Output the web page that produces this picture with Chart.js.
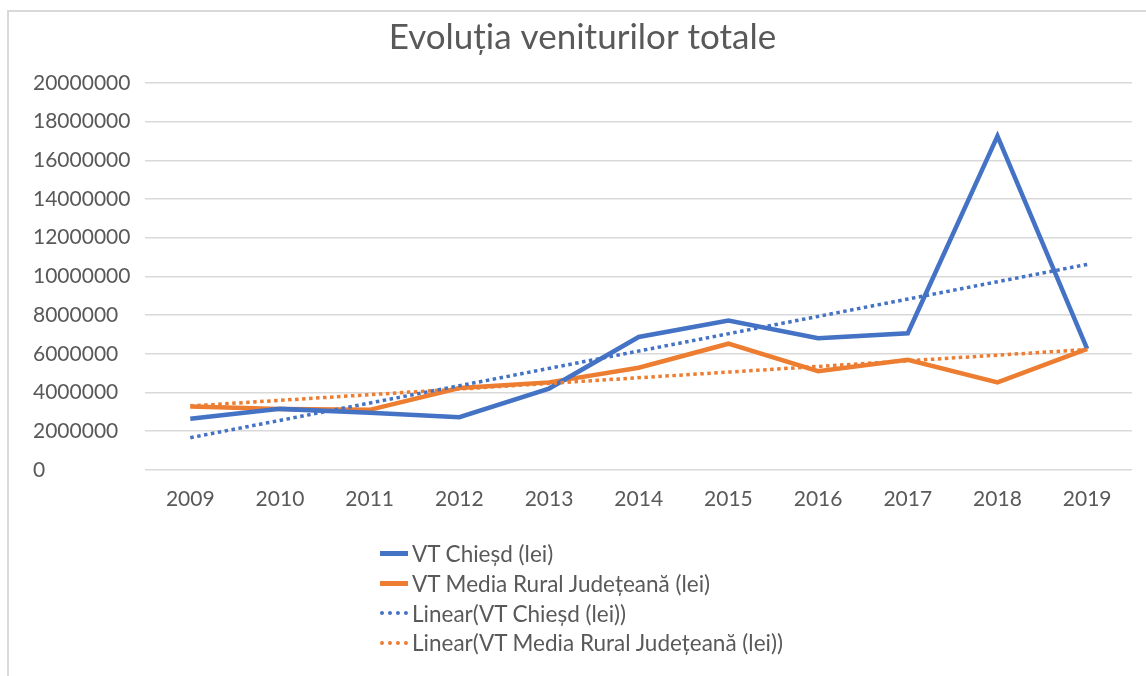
<!DOCTYPE html>
<html>
<head>
<meta charset="utf-8">
<script src="https://cdn.jsdelivr.net/npm/chart.js@4/dist/chart.umd.min.js"></script>
<style>
    body { margin: 0; background: #fff; }
    .wrap { position: relative; width: 1146px; height: 676px; overflow: hidden; }
    .frame { position: absolute; left: 7px; top: 10px; right: -10px; bottom: -10px;
             border-left: 2px solid #d9d9d9; border-top: 2px solid #d9d9d9; }
    canvas { position: absolute; left: 0; top: 0; }
    .legend { position: absolute; left: 380px; top: 539px; font-family: Lato, sans-serif;
              font-size: 22.5px; color: #595959; }
    .legend div { height: 29.7px; display: flex; align-items: center; }
    .legend span.mark { display: inline-block; width: 28px; margin-right: 4px; }
</style>
</head>
<body>
<div class="wrap">
    <div class="frame"></div>
    <canvas id="chart" width="1146" height="676"></canvas>
    <div class="legend" id="legend"></div>
</div>
<script>
// data
const years = ['2009', '2010', '2011', '2012', '2013', '2014', '2015', '2016', '2017', '2018', '2019'];
const vtChiesd = [2640000, 3150000, 2950000, 2720000, 4200000, 6870000, 7720000, 6800000, 7060000, 17250000, 6250000];
const vtMediaRural = [3270000, 3140000, 3100000, 4230000, 4520000, 5280000, 6520000, 5100000, 5690000, 4520000, 6250000];
// trendlines: only the end points, straight line between them
const trendChiesd = [1660000, null, null, null, null, null, null, null, null, null, 10620000];
const trendMediaRural = [3300000, null, null, null, null, null, null, null, null, null, 6220000];

const blue = '#4472C4';
const orange = '#ED7D31';
const grey = '#595959';

const labels = ['VT Chieșd (lei)', 'VT Media Rural Județeană (lei)',
    'Linear(VT Chieșd (lei))', 'Linear(VT Media Rural Județeană (lei))'];

const lineSet = (label, data, color, dotted) => ({
    label: label,
    data: data,
    borderColor: color,
    backgroundColor: color,
    borderWidth: dotted ? 3.5 : 4.5,
    borderDash: dotted ? [3.5, 3.5] : [],
    borderCapStyle: 'butt',
    borderJoinStyle: 'miter',
    pointRadius: 0,
    tension: 0,
    spanGaps: true,
    fill: false,
    order: dotted ? 0 : 1
});

const ctx = document.getElementById('chart').getContext('2d');
const chart = new Chart(ctx, {
    type: 'line',
    data: {
        labels: years,
        datasets: [
            lineSet(labels[0], vtChiesd, blue, false),
            lineSet(labels[1], vtMediaRural, orange, false),
            lineSet(labels[2], trendChiesd, blue, true),
            lineSet(labels[3], trendMediaRural, orange, true)
        ]
    },
    options: {
        responsive: false,
        animation: false,
        layout: { padding: { left: 33, right: 14, top: 17, bottom: 155 } },
        plugins: {
            legend: { display: false },
            tooltip: { enabled: false },
            title: {
                display: true,
                text: 'Evoluția veniturilor totale',
                color: grey,
                font: { family: 'Lato', size: 35, weight: 'normal' },
                padding: { top: 0, bottom: 24 }
            }
        },
        scales: {
            x: {
                offset: true,
                grid: { display: false },
                border: { display: false },
                ticks: { color: grey, font: { family: 'Lato', size: 21 }, padding: 9, maxRotation: 0 }
            },
            y: {
                min: 0,
                max: 20000000,
                grid: { color: '#d9d9d9', lineWidth: 1.5, drawTicks: false },
                border: { display: false },
                ticks: {
                    stepSize: 2000000,
                    color: grey,
                    font: { family: 'Lato', size: 21 },
                    padding: 7.5,
                    crossAlign: 'far',
                    callback: v => String(v)
                }
            }
        }
    }
});

// legend as a vertical list, like the original
const legendEl = document.getElementById('legend');
chart.data.datasets.forEach(ds => {
    const row = document.createElement('div');
    const mark = document.createElement('span');
    mark.className = 'mark';
    mark.style.borderTop = (ds.borderDash.length ? '4px dotted ' : '5px solid ') + ds.borderColor;
    row.appendChild(mark);
    row.appendChild(document.createTextNode(ds.label));
    legendEl.appendChild(row);
});
</script>
</body>
</html>
